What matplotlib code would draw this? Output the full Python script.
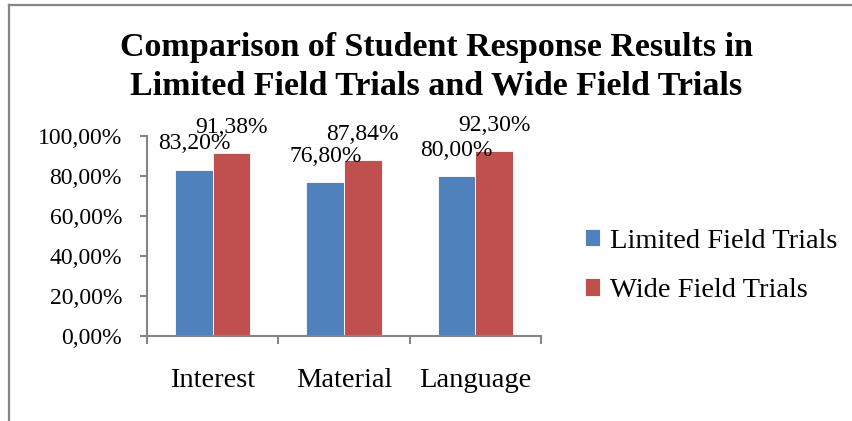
import matplotlib
matplotlib.use("Agg")
import matplotlib.pyplot as plt
import numpy as np
from matplotlib.lines import Line2D

categories = ["Interest", "Material", "Language"]
limited = [83.20, 76.80, 80.00]
wide = [91.38, 87.84, 92.30]
series_names = ["Limited Field Trials", "Wide Field Trials"]
yticks = [0, 20, 40, 60, 80, 100]

BLUE = "#4F81BD"
RED = "#C0504D"
GRAY = "#868686"
FONT = "Liberation Serif"

fig = plt.figure(figsize=(8.52, 4.21), dpi=100)
ax = fig.add_axes([147/852, 1-336/421, (541-147)/852, 200/421])

x = np.arange(len(categories))
w = 0.286
b1 = ax.bar(x - w/2, limited, w, color=BLUE, edgecolor="white", linewidth=0.6, label=series_names[0])
b2 = ax.bar(x + w/2, wide, w, color=RED, edgecolor="white", linewidth=0.6, label=series_names[1])

def fmt(v):
    return f"{v:.2f}%".replace(".", ",")

for bars, vals in ((b1, limited), (b2, wide)):
    for r, v in zip(bars, vals):
        ax.annotate(fmt(v), (r.get_x() + r.get_width()/2, v), xytext=(0, 26),
                    textcoords="offset pixels",
                    ha="center", va="center", fontsize=17, family=FONT, color="black")

ax.set_xlim(-0.5, 2.5)
ax.set_ylim(0, 100)
ax.set_yticks(yticks)
ax.set_yticklabels([fmt(v) for v in yticks], family=FONT, fontsize=17)
ax.tick_params(axis="y", direction="out", length=5, width=1.5, color=GRAY, pad=13)

ax.set_xticks(x)
ax.set_xticklabels(categories, family=FONT, fontsize=20.5)
ax.tick_params(axis="x", which="major", length=0, pad=23)
ax.set_xticks([-0.5, 0.5, 1.5, 2.5], minor=True)
ax.tick_params(axis="x", which="minor", direction="out", length=6, width=1.5, color=GRAY)

for s in ("top", "right"):
    ax.spines[s].set_visible(False)
for s in ("left", "bottom"):
    ax.spines[s].set_color(GRAY)
    ax.spines[s].set_linewidth(1.5)

fig.text(0.512, 1-67/421, "Comparison of Student Response Results in\nLimited Field Trials and Wide Field Trials",
         ha="center", va="center", fontsize=24.5, fontweight="bold", family=FONT, linespacing=1.32)

leg = fig.legend(handles=[b1, b2], labels=series_names, loc="center left",
                 bbox_to_anchor=(559/852, 1-266/421), frameon=False,
                 prop={"family": FONT, "size": 20.5}, handlelength=0.55, handleheight=0.55,
                 handletextpad=0.35, labelspacing=0.85)

# outer frame (left and top edges)
fig.add_artist(Line2D([9/852, 9/852], [0, 1-5/421], transform=fig.transFigure, color=GRAY, linewidth=1.6))
fig.add_artist(Line2D([9/852, 1], [1-5/421, 1-5/421], transform=fig.transFigure, color=GRAY, linewidth=1.6))

fig.savefig("out.png", dpi=100, facecolor="white")
